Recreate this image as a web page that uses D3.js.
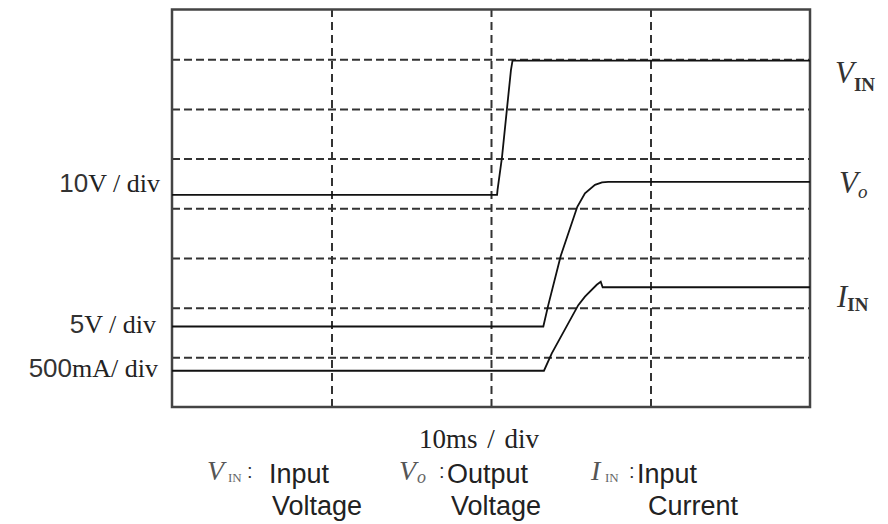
<!DOCTYPE html>
<html>
<head>
<script src="https://d3js.org/d3.v7.min.js"></script>
<style>
  body { margin: 0; background: #fff; }
  .serif { font-family: "Liberation Serif", "Times New Roman", serif; }
  .sans { font-family: "Liberation Sans", Arial, sans-serif; }
</style>
</head>
<body>
<svg width="888" height="524"></svg>
<script>
// time in ms, level in screen divisions (0 = bottom of the screen)
const vinTime  = [0, 20.38, 20.41, 20.69, 21.0, 21.25, 21.35, 40];
const vinLevel = [4.27, 4.27, 4.37, 5.03, 6.0, 6.78, 6.97, 6.97];

const voTime  = [0, 23.28, 23.59, 24.37, 25.41, 25.89, 26.52, 26.96, 27.35, 40];
const voLevel = [1.62, 1.62, 2.05, 3.04, 4.03, 4.3, 4.47, 4.52, 4.53, 4.53];

const iinTime  = [0, 23.32, 23.81, 25.47, 25.89, 26.63, 26.88, 27.0, 40];
const iinLevel = [0.73, 0.73, 1.08, 2.05, 2.22, 2.46, 2.52, 2.41, 2.41];

const xTicks = [10, 20, 30];
const yTicks = [1, 2, 3, 4, 5, 6, 7];

const channelNums  = ['10', '5', '500'];
const channelUnits = ['V / div', 'V / div', 'mA/ div'];
const timeBase = '10ms / div';

const legendSyms  = ['V', 'V', 'I'];
const legendSubs  = ['IN', 'o', 'IN'];
const legendLine1 = ['Input', 'Output', 'Input'];
const legendLine2 = ['Voltage', 'Voltage', 'Current'];

const svg = d3.select('svg');
const x = d3.scaleLinear().domain([0, 40]).range([172, 810]);
const y = d3.scaleLinear().domain([0, 8]).range([407, 9.5]);
const plotH = y(0) - y(8);
const plotW = x(40) - x(0);

// dashed grid
const gx = svg.append('g')
  .attr('transform', `translate(0,${y(0)})`)
  .call(d3.axisBottom(x).tickValues(xTicks).tickSize(-plotH).tickFormat(''));
gx.select('.domain').remove();
gx.selectAll('line')
  .attr('stroke', '#333')
  .attr('stroke-width', 2)
  .attr('stroke-dasharray', '8,5');

const gy = svg.append('g')
  .attr('transform', `translate(${x(0)},0)`)
  .call(d3.axisLeft(y).tickValues(yTicks).tickSize(-plotW).tickFormat(''));
gy.select('.domain').remove();
gy.selectAll('line')
  .attr('stroke', '#333')
  .attr('stroke-width', 2)
  .attr('stroke-dasharray', '8,4');

// screen frame
svg.append('rect')
  .attr('x', x(0)).attr('y', y(8))
  .attr('width', plotW).attr('height', plotH)
  .attr('fill', 'none')
  .attr('stroke', '#444')
  .attr('stroke-width', 2.5);

// traces
const line = d3.line().x(d => x(d[0])).y(d => y(d[1]));
const traces = [
  d3.zip(vinTime, vinLevel),
  d3.zip(voTime, voLevel),
  d3.zip(iinTime, iinLevel)
];
svg.selectAll('path.trace')
  .data(traces)
  .enter()
  .append('path')
  .classed('trace', true)
  .attr('d', line)
  .attr('fill', 'none')
  .attr('stroke', '#111')
  .attr('stroke-width', 1.8);

// channel scale labels on the left
const leftDy = [-3, 6.5, 6];
const leftX = [160, 156, 158];
traces.forEach((t, i) => {
  const txt = svg.append('text')
    .attr('x', leftX[i])
    .attr('y', y(t[0][1]) + leftDy[i])
    .attr('text-anchor', 'end')
    .attr('font-size', 26)
    .attr('fill', '#222');
  txt.append('tspan').attr('class', 'sans').attr('fill', '#333').text(channelNums[i]);
  txt.append('tspan').attr('class', 'serif').text(channelUnits[i]);
});

// trace names on the right
function traceName(xp, yp, sym, sub, subY, subBold, subItalic, subSize) {
  const t = svg.append('text').attr('class', 'serif').attr('fill', '#333');
  t.append('tspan')
    .attr('x', xp).attr('y', yp)
    .attr('font-size', 31).attr('font-style', 'italic')
    .text(sym);
  t.append('tspan')
    .attr('y', subY)
    .attr('font-size', subSize)
    .attr('font-weight', subBold ? 'bold' : 'normal')
    .attr('font-style', subItalic ? 'italic' : 'normal')
    .text(sub);
}
traceName(835, 83, 'V', 'IN', 91, true, false, 19);
traceName(839, 193, 'V', 'o', 198, false, true, 19);
traceName(837, 307, 'I', 'IN', 311, true, false, 19);

// time base
svg.append('text')
  .attr('class', 'serif')
  .attr('x', 479).attr('y', 448)
  .attr('text-anchor', 'middle')
  .attr('font-size', 27)
  .attr('word-spacing', 3)
  .attr('fill', '#222')
  .text(timeBase);

// legend below
const legX = [207, 399, 591];
const subDx = [21, 18, 14];
const colonDx = [40, 40, 38];
const l1Dx = [62, 48, 46];
const l2Dx = [65, 52, 57];
legendSyms.forEach((s, i) => {
  const x0 = legX[i];
  svg.append('text').attr('class', 'serif')
    .attr('x', x0).attr('y', 480)
    .attr('font-size', 28).attr('font-style', 'italic').attr('fill', '#555')
    .text(s);
  svg.append('text').attr('class', 'serif')
    .attr('x', x0 + subDx[i]).attr('y', legendSubs[i] === 'o' ? 483 : 482)
    .attr('font-size', legendSubs[i] === 'o' ? 18 : 13)
    .attr('font-style', legendSubs[i] === 'o' ? 'italic' : 'normal')
    .attr('fill', '#666')
    .text(legendSubs[i]);
  svg.append('text').attr('class', 'sans')
    .attr('x', x0 + colonDx[i]).attr('y', 478)
    .attr('font-size', 20).attr('fill', '#333')
    .text(':');
  svg.append('text').attr('class', 'sans')
    .attr('x', x0 + l1Dx[i]).attr('y', 483)
    .attr('font-size', 27).attr('fill', '#222')
    .text(legendLine1[i]);
  svg.append('text').attr('class', 'sans')
    .attr('x', x0 + l2Dx[i]).attr('y', 515)
    .attr('font-size', 27).attr('fill', '#222')
    .text(legendLine2[i]);
});
</script>
</body>
</html>
